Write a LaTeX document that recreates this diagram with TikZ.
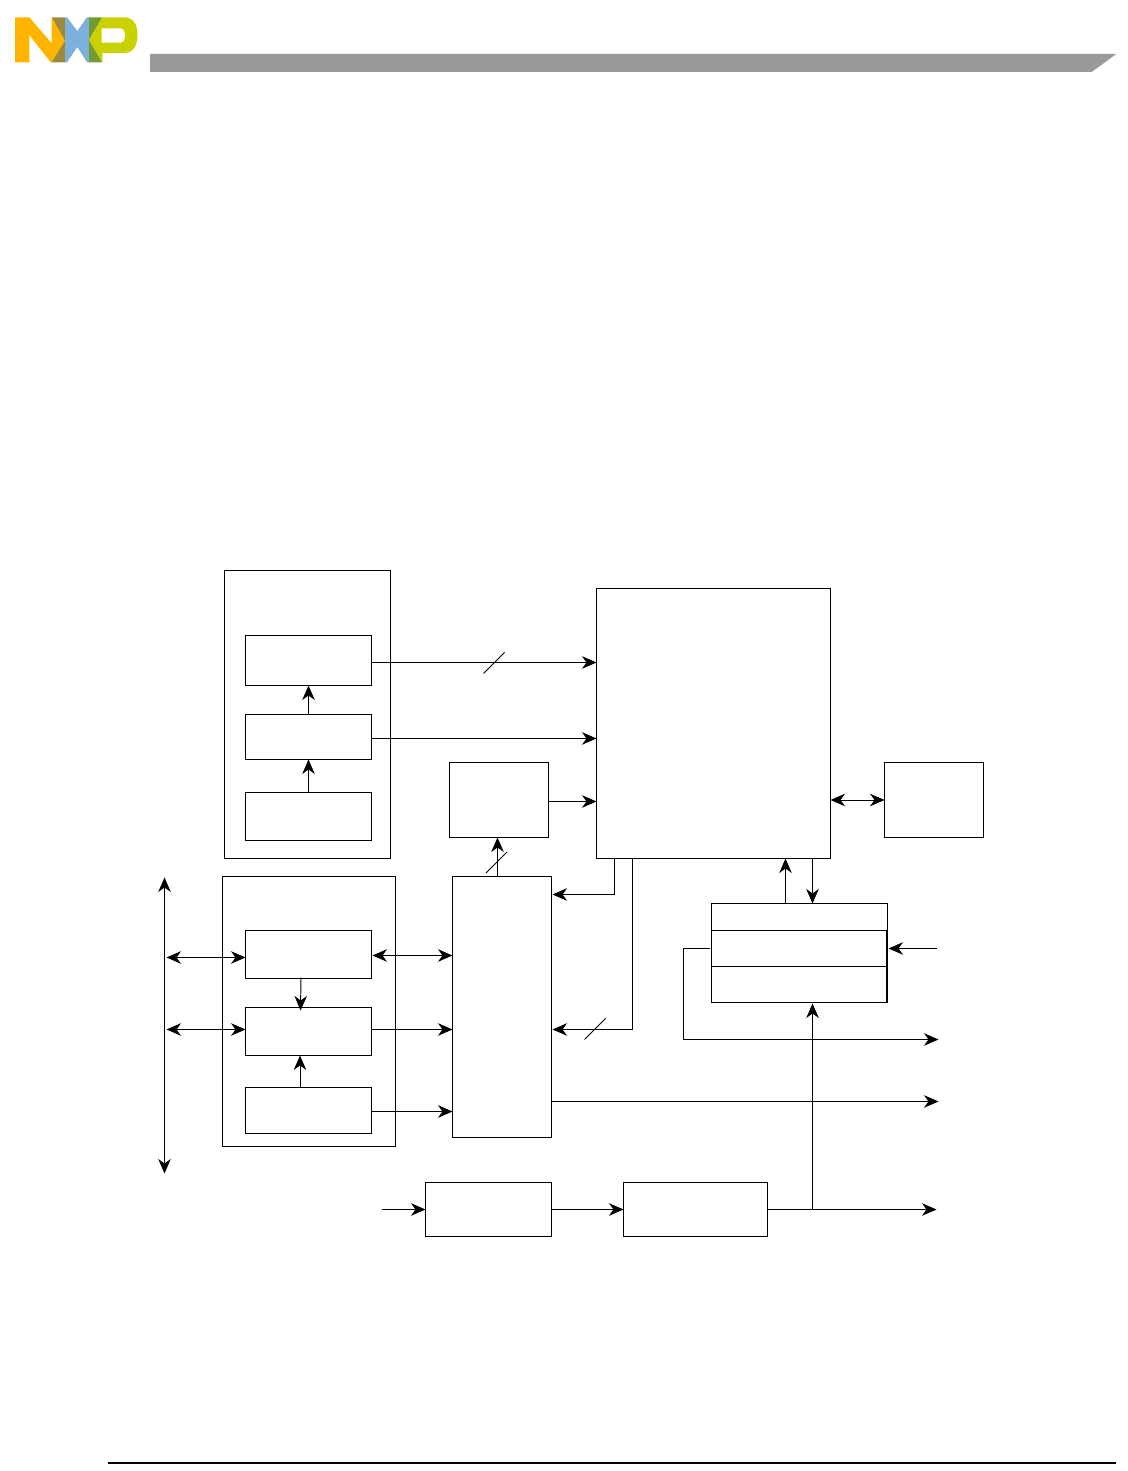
\documentclass[tikz,border=0pt]{standalone}
\usepackage{tikz}
\usetikzlibrary{arrows.meta,positioning,calc}
\definecolor{logoorange}{RGB}{255,181,0}
\definecolor{logobrown}{RGB}{156,138,60}
\definecolor{logoblue}{RGB}{123,177,219}
\definecolor{logogreen}{RGB}{115,154,51}
\definecolor{logolime}{RGB}{201,210,0}
\definecolor{bargray}{RGB}{153,153,153}
\tikzset{
  box/.style={rectangle,draw=black,fill=white,line width=.55pt,inner sep=0pt,outer sep=0pt},
  fl/.style={-{Stealth[length=2.9mm,width=2.5mm,inset=.9mm]},draw=black,line width=.55pt},
  bfl/.style={{Stealth[length=2.9mm,width=2.5mm,inset=.9mm]}-{Stealth[length=2.9mm,width=2.5mm,inset=.9mm]},draw=black,line width=.55pt},
  slash/.style={draw=black,line width=.5pt},
}
\begin{document}
\begin{tikzpicture}[x=1cm,y=1cm]
  \useasboundingbox (0,0) rectangle (22.54,29.42);
  % header strip and logo, in page pixels
  \begin{scope}[shift={(0,29.42)},x=.02cm,y=-.02cm]
    \fill[bargray] (150,54) -- (1116,54) -- (1091.5,72) -- (150,72) -- cycle;
    \fill[logoorange] (15,17.3) -- (29.3,17.3) -- (51.7,43.3) -- (51.7,17.3) -- (65,40.7) -- (51.7,62.3)
      -- (50.7,62.3) -- (29.3,35) -- (29.3,62.3) -- (15,62.3) -- cycle;
    \fill[logobrown] (51.7,17.3) -- (65,17.3) -- (65,40.7) -- cycle;
    \fill[logobrown] (65,40.7) -- (65,62.3) -- (51.7,62.3) -- cycle;
    \fill[logoblue] (65,17.3) -- (67,17.3) -- (77.3,31) -- (87,17.3) -- (89,17.3) -- (89,62.3)
      -- (87,62.3) -- (77.3,47) -- (67,62.3) -- (65,62.3) -- cycle;
    \fill[logogreen] (89,17.3) -- (102.3,17.3) -- (89,40) -- cycle;
    \fill[logogreen] (89,40) -- (102.3,62.3) -- (89,62.3) -- cycle;
    \fill[logolime,even odd rule] (89,40) -- (102.3,17.3) -- (124,17.3)
      .. controls (133,17.3) and (137.5,24) .. (137.5,35)
      .. controls (137.5,46) and (133,53) .. (124,53) -- (102.3,53) -- (102.3,62.3) -- cycle
      (101.7,28.3) -- (120,28.3) .. controls (123.5,28.3) and (125,31) .. (125,35.5)
      .. controls (125,40) and (123.5,42.7) .. (120,42.7) -- (101.7,42.7) -- cycle;
  \end{scope}
  \coordinate (footl) at (2.16,.16);
  \coordinate (footr) at (22.32,.16);
  \draw[line width=.7pt] (footl) -- (footr);

  \begin{scope}[shift={(.01,-.01)}]
  % upper group
  \node[box,minimum width=3.32cm,minimum height=5.76cm] (grpup) at (6.14,15.14) {};
  \node[box,minimum width=2.52cm,minimum height=1cm] (upa) at (6.16,16.22) {};
  \node[box,minimum width=2.52cm,minimum height=.9cm] (upb) at (6.16,14.69) {};
  \node[box,minimum width=2.52cm,minimum height=.96cm] (upc) at (6.16,13.10) {};
  % lower group
  \node[box,minimum width=3.46cm,minimum height=5.4cm] (grplo) at (6.175,9.2) {};
  \node[box,minimum width=2.52cm,minimum height=.96cm] (loa) at (6.16,10.34) {};
  \node[box,minimum width=2.52cm,minimum height=.96cm] (lob) at (6.16,8.8) {};
  \node[box,minimum width=2.52cm,minimum height=.92cm] (loc) at (6.16,7.22) {};
  % middle and right blocks
  \node[box,minimum width=1.98cm,minimum height=5.22cm] (mid) at (10.03,9.29) {};
  \node[box,minimum width=1.98cm,minimum height=1.5cm] (small) at (9.97,13.43) {};
  \node[box,minimum width=4.68cm,minimum height=5.4cm] (core) at (14.26,14.96) {};
  \node[box,minimum width=1.98cm,minimum height=1.5cm] (side) at (18.67,13.43) {};
  \node[box,minimum width=3.52cm,minimum height=1.98cm] (stack) at (15.98,10.37) {};
  \node[box,minimum width=3.5cm,minimum height=.72cm] (stackb) at (15.97,10.46) {};
  \node[box,minimum width=3.5cm,minimum height=.72cm] (stackc) at (15.97,9.74) {};
  \node[box,minimum width=2.52cm,minimum height=1.08cm] (inbox) at (9.76,5.24) {};
  \node[box,minimum width=2.88cm,minimum height=1.08cm] (outbox) at (13.9,5.24) {};

  % free ends
  \coordinate (bustop) at (3.28,11.88);
  \coordinate (busbot) at (3.28,5.96);
  \coordinate (busr) at (3.32,11.88);
  \coordinate (sin) at (18.72,10.46);
  \coordinate (scorner) at (13.66,8.64);
  \coordinate (sout) at (18.76,8.64);
  \coordinate (midout) at (18.76,7.40);
  \coordinate (outend) at (18.72,5.24);
  \coordinate (instart) at (7.62,5.24);
  \coordinate (marka) at (9.87,16.17);
  \coordinate (markb) at (9.92,12.18);
  \coordinate (markc) at (11.89,8.85);

  % bus and lower group
  \draw[bfl] (bustop) -- (busbot);
  \draw[bfl] ([yshift=-.6mm]loa.west -| busr) -- ([yshift=-.6mm]loa.west);
  \draw[bfl] ([yshift=.4mm]lob.west -| busr) -- ([yshift=.4mm]lob.west);
  \draw[fl] ([xshift=-1.5mm,yshift=.2mm]loa.south) -- ([xshift=-1.6mm,yshift=-.6mm]lob.north);
  \draw[fl] ([xshift=-1.7mm]loc.north) -- ([xshift=-1.7mm]lob.south);
  \draw[bfl] ([xshift=.2mm,yshift=-.2mm]loa.east) -- ([yshift=-.2mm]loa.east -| mid.west);
  \draw[fl] ([yshift=.4mm]lob.east) -- ([yshift=.4mm]lob.east -| mid.west);
  \draw[fl] ([yshift=-.2mm]loc.east) -- ([yshift=-.2mm]loc.east -| mid.west);
  % upper group
  \draw[fl] (upc.north) -- (upb.south);
  \draw[fl] (upb.north) -- (upa.south);
  \draw[fl] ([yshift=-.4mm]upa.east) -- ([yshift=-.4mm]upa.east -| core.west);
  \draw[fl] ([yshift=-.3mm]upb.east) -- ([yshift=-.3mm]upb.east -| core.west);
  \draw[slash] ([shift={(-.21,-.21)}]marka) -- ([shift={(.21,.21)}]marka);
  % middle block
  \draw[fl] ([xshift=-.3mm]small.south |- mid.north) -- ([xshift=-.3mm]small.south);
  \draw[slash] ([shift={(-.21,-.21)}]markb) -- ([shift={(.21,.21)}]markb);
  \draw[fl] ([yshift=-.3mm]small.east) -- ([yshift=-.3mm]small.east -| core.west);
  \draw[fl] ([xshift=-19.8mm]core.south) |- ([xshift=.2mm,yshift=-3.6mm]mid.north east);
  \draw[fl] ([xshift=-16.2mm]core.south) |- ([xshift=.2mm,yshift=-4.5mm]mid.east);
  \draw[slash] ([shift={(-.21,-.21)}]markc) -- ([shift={(.21,.21)}]markc);
  \draw[fl] ([yshift=-18.9mm]mid.east) -- (midout);
  \draw[bfl] (side.west -| core.east) -- (side.west);
  % stack
  \draw[fl] ([xshift=-2.8mm]stack.north) -- ([xshift=-2.8mm]stack.north |- core.south);
  \draw[fl] ([xshift=2.6mm]stack.north |- core.south) -- ([xshift=2.6mm]stack.north);
  \draw[fl] (sin) -- ([xshift=.2mm]sin -| stack.east);
  \draw[fl] ([xshift=-.4mm]stackb.west) -| (scorner) -- (sout);
  % bottom row
  \draw[fl] (instart) -- (inbox.west);
  \draw[fl] (inbox.east) -- (outbox.west);
  \draw[fl] (outbox.east) -- (outend);
  \draw[fl] ([xshift=2.6mm]stack.south |- outbox.east) -- ([xshift=2.6mm,yshift=-.2mm]stack.south);
  \end{scope}
\end{tikzpicture}
\end{document}
